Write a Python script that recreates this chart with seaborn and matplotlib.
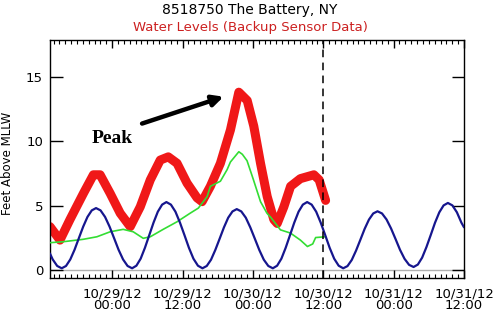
import matplotlib
matplotlib.use("Agg")
import matplotlib.pyplot as plt
import matplotlib.dates as mdates
from matplotlib.ticker import FixedLocator
import pandas as pd
import seaborn as sns

sns.set_theme(style="white")
plt.rcParams['font.family'] = ['DejaVu Sans']

# ---------------- data (hours relative to 10/29/12 00:00) ----------------
title = "8518750 The Battery, NY"
subtitle = "Water Levels (Backup Sensor Data)"
ylabel = "Feet Above MLLW"
tick_hours = [0, 12, 24, 36, 48, 60]

# predicted tide (blue)
pred_hours = [-10.6, -10.14, -9.37, -8.6,
              -7.87, -7.14, -6.41, -5.68, -4.94, -4.21, -3.48, -2.75,
              -1.98, -1.21, -0.44, 0.33, 1.09, 1.86, 2.63, 3.4,
              4.13, 4.86, 5.59, 6.33, 7.06, 7.79, 8.52, 9.25,
              10.02, 10.79, 11.56, 12.33, 13.09, 13.86, 14.63, 15.4,
              16.13, 16.86, 17.59, 18.33, 19.06, 19.79, 20.52, 21.25,
              22.02, 22.79, 23.56, 24.33, 25.09, 25.86, 26.63, 27.4,
              28.13, 28.86, 29.59, 30.33, 31.06, 31.79, 32.52, 33.25,
              34.02, 34.79, 35.56, 36.33, 37.09, 37.86, 38.63, 39.4,
              40.13, 40.86, 41.59, 42.33, 43.06, 43.79, 44.52, 45.25,
              46.02, 46.79, 47.56, 48.33, 49.09, 49.86, 50.63, 51.4,
              52.13, 52.86, 53.59, 54.33, 55.06, 55.79, 56.52, 57.25,
              58.02, 58.79, 59.56, 60.0]
pred_ft = [1.25, 0.79, 0.28, 0.1,
           0.28, 0.79, 1.55, 2.45, 3.35, 4.11, 4.62, 4.8,
           4.62, 4.11, 3.35, 2.45, 1.55, 0.79, 0.28, 0.1,
           0.30, 0.85, 1.70, 2.69, 3.67, 4.52, 5.07, 5.27,
           5.07, 4.52, 3.67, 2.69, 1.70, 0.85, 0.30, 0.1,
           0.28, 0.77, 1.53, 2.41, 3.29, 4.05, 4.54, 4.72,
           4.54, 4.05, 3.29, 2.41, 1.53, 0.77, 0.28, 0.1,
           0.30, 0.85, 1.70, 2.69, 3.67, 4.52, 5.07, 5.27,
           5.07, 4.52, 3.67, 2.69, 1.70, 0.85, 0.30, 0.1,
           0.27, 0.75, 1.48, 2.33, 3.18, 3.90, 4.38, 4.55,
           4.38, 3.91, 3.21, 2.38, 1.54, 0.84, 0.37, 0.2,
           0.39, 0.93, 1.75, 2.7, 3.66, 4.47, 5.01, 5.2,
           5.01, 4.47, 3.66, 3.3]

# observed water level, backup sensor (red)
obs_hours = [-10.6, -8.9, -7.2, -4.9, -3.2, -2.05, -0.34, 1.37, 3.08, 4.79,
             6.5, 8.2, 9.57, 11.06, 12.77, 14.48, 15.33, 16.75, 18.46, 20.17,
             21.6, 23.03, 24.15, 25.3, 26.44, 27.57, 28.15, 29.28, 30.43, 32.1,
             34.4, 35.3, 36.4]
obs_ft = [3.35, 2.3, 3.9, 5.95, 7.4, 7.4, 5.95, 4.4, 3.35, 4.9,
          7.0, 8.55, 8.8, 8.3, 6.75, 5.6, 5.3, 6.5, 8.3, 10.9,
          13.85, 13.2, 11.2, 8.3, 5.7, 3.9, 3.6, 4.9, 6.5, 7.1,
          7.4, 7.0, 5.4]

# green series
res_hours = [-10.6, -8.4, -4.96, -2.6, -0.34, 1.88, 3.59, 5.3, 6.5, 8.7,
             11.06, 13.3, 14.7, 16.2, 16.75, 18.46, 19.6, 20.17, 21.6, 22.2,
             23.0, 24.1, 25.3, 26.4, 27.0, 28.7, 30.4, 32.1, 33.3, 34.2,
             34.7, 36.4]
res_ft = [2.1, 2.17, 2.36, 2.56, 2.95, 3.14, 2.95, 2.44, 2.56, 3.14,
          3.73, 4.4, 4.8, 5.7, 6.5, 6.9, 7.8, 8.4, 9.2, 9.0,
          8.5, 7.0, 5.3, 4.4, 4.1, 3.1, 2.85, 2.3, 1.8, 2.0,
          2.5, 2.56]

peak_label = "Peak"

# ---------------- plotting ----------------
base = pd.Timestamp("2012-10-29 00:00")
def to_time(h):
    return base + pd.to_timedelta(h, unit="h")
def num(h):
    return mdates.date2num(to_time(h))

pred = pd.DataFrame({"time": [to_time(h) for h in pred_hours], "ft": pred_ft})
obs = pd.DataFrame({"time": [to_time(h) for h in obs_hours], "ft": obs_ft})
res = pd.DataFrame({"time": [to_time(h) for h in res_hours], "ft": res_ft})

fig = plt.figure(figsize=(5.0, 3.17), dpi=100)
ax = fig.add_axes([0.100, 0.123, 0.828, 0.751])

ax.axhline(0, color="#b0b0b0", lw=1.0, zorder=0)
sns.lineplot(data=obs, x="time", y="ft", ax=ax, color="#f01818", lw=6.5,
             sort=False, solid_capstyle="round", solid_joinstyle="round", zorder=2)
sns.lineplot(data=res, x="time", y="ft", ax=ax, color="#33dd33", lw=1.2,
             sort=False, zorder=3)
sns.lineplot(data=pred, x="time", y="ft", ax=ax, color="#16168e", lw=1.6,
             sort=False, solid_joinstyle="round", zorder=4)
ax.axvline(num(36), color="black", lw=1.1, ls=(0, (5, 3.5)), zorder=5)

ax.set_xlim(num(-10.6), num(60.0))
ax.set_ylim(-0.66, 17.93)

ax.xaxis.set_major_locator(FixedLocator([num(h) for h in tick_hours]))
ax.xaxis.set_major_formatter(mdates.DateFormatter("%m/%d/%y\n%H:%M"))
ax.xaxis.set_minor_locator(mdates.HourLocator())
ax.set_yticks([0, 5, 10, 15])
ax.set_yticklabels(["0", "5", "10", "15"])

ax.tick_params(axis="x", which="major", direction="in", length=6, width=1,
               top=True, bottom=True, labelsize=9.5, pad=7, color="black",
               labelcolor="black")
ax.tick_params(axis="x", which="minor", direction="in", length=3, width=0.8,
               top=True, bottom=True, color="black")
ax.tick_params(axis="y", which="major", direction="in", length=9, width=1,
               left=True, right=True, labelsize=9.5, pad=5, color="black",
               labelcolor="black")
for lab in ax.get_xticklabels():
    lab.set_linespacing(0.85)
ax.yaxis.get_major_ticks()[0].tick1line.set_color("#b0b0b0")
ax.yaxis.get_major_ticks()[0].tick2line.set_color("#b0b0b0")

for s in ax.spines.values():
    s.set_color("black")
    s.set_linewidth(1.0)
ax.set_xlabel("")
ax.set_ylabel("")

fig.text(0.5, 1 - 10 / 317, title, ha="center", va="center", fontsize=10, color="black")
fig.text(0.5, 1 - 28 / 317, subtitle, ha="center", va="center", fontsize=9.5, color="#cc2020")
fig.text(8 / 500, 1 - 163 / 317, ylabel, rotation=90, ha="center", va="center",
         fontsize=8.5, color="black")

ax.text(num(0.0), 10.2, peak_label, ha="center", va="center", fontsize=14,
        fontweight="bold", family=["Liberation Serif", "DejaVu Serif"], color="black", zorder=6)
ax.annotate("", xy=(num(19.0), 13.5), xytext=(num(5.1), 11.4),
            arrowprops=dict(arrowstyle="-|>", lw=3.2, color="black",
                            mutation_scale=16, shrinkA=0, shrinkB=0), zorder=6)

fig.savefig("out.png", dpi=100, facecolor="white")
